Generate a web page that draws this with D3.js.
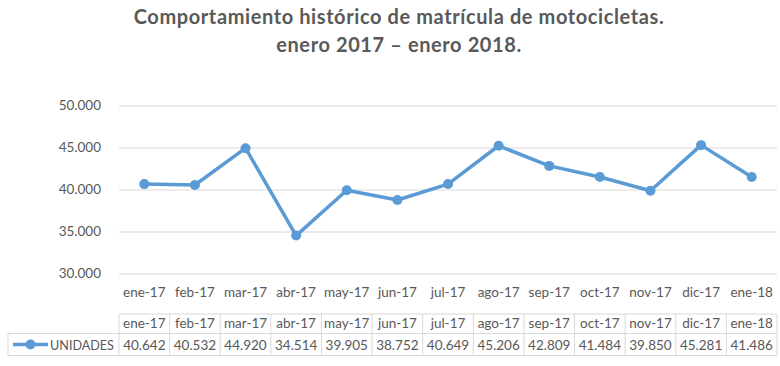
<!DOCTYPE html>
<html>
<head>
<meta charset="utf-8">
<script src="https://cdn.jsdelivr.net/npm/d3@7"></script>
<style>
  body { margin: 0; background: #fff; }
  text { font-family: Lato, "Liberation Sans", sans-serif; fill: #595959; }
</style>
</head>
<body>
<script>
const months = ["ene-17", "feb-17", "mar-17", "abr-17", "may-17", "jun-17", "jul-17",
  "ago-17", "sep-17", "oct-17", "nov-17", "dic-17", "ene-18"];
const unidades = [40642, 40532, 44920, 34514, 39905, 38752, 40649, 45206, 42809, 41484, 39850, 45281, 41486];
const yTicks = [30000, 35000, 40000, 45000, 50000];
const seriesName = "UNIDADES";
const titleLines = ["Comportamiento histórico de matrícula de motocicletas.", "enero 2017 – enero 2018."];

const width = 780, height = 366;
const blue = "#5b9bd5", grid = "#d9d9d9";
const fmt = d3.format(",.0f");
const num = (v) => fmt(v).replace(/,/g, ".");

const svg = d3.select("body").append("svg")
  .attr("width", width)
  .attr("height", height);

const x = d3.scaleBand().domain(months).range([119, 777]);
const y = d3.scaleLinear().domain([30000, 50000]).range([273.5, 105.5]);

// title
svg.append("g").selectAll("text")
  .data(titleLines)
  .join("text")
  .attr("x", 399)
  .attr("y", (d, i) => 24 + i * 28)
  .attr("text-anchor", "middle")
  .attr("font-size", 20)
  .attr("letter-spacing", 0.6)
  .attr("font-weight", "bold")
  .text((d) => d);

// y axis with gridlines
const yAxis = svg.append("g")
  .attr("transform", "translate(119,0)")
  .call(d3.axisLeft(y).tickValues(yTicks).tickSize(-(777 - 119)).tickPadding(18).tickFormat(num));
yAxis.select(".domain").remove();
yAxis.selectAll(".tick line").attr("stroke", grid);
yAxis.selectAll(".tick text").attr("font-size", 13.5).attr("fill", "#595959");

// category labels
svg.append("g").selectAll("text")
  .data(months)
  .join("text")
  .attr("x", (d) => x(d) + x.bandwidth() / 2)
  .attr("y", 297)
  .attr("text-anchor", "middle")
  .attr("font-size", 13.5)
  .text((d) => d);

// line + markers
const line = d3.line()
  .x((d, i) => x(months[i]) + x.bandwidth() / 2)
  .y((d) => y(d));

svg.append("path")
  .datum(unidades)
  .attr("d", line)
  .attr("fill", "none")
  .attr("stroke", blue)
  .attr("stroke-width", 3.5)
  .attr("stroke-linejoin", "round");

svg.append("g").selectAll("circle")
  .data(unidades)
  .join("circle")
  .attr("cx", (d, i) => x(months[i]) + x.bandwidth() / 2)
  .attr("cy", (d) => y(d))
  .attr("r", 5)
  .attr("fill", blue);

// data table
const rowTop = 314, rowMid = 333.5, rowBot = 355.5, legLeft = 8;
const table = svg.append("g").attr("stroke", grid).attr("stroke-width", 1).attr("fill", "none");
table.append("line").attr("x1", 119).attr("x2", 777).attr("y1", rowTop).attr("y2", rowTop);
table.append("line").attr("x1", legLeft).attr("x2", 777).attr("y1", rowMid).attr("y2", rowMid);
table.append("line").attr("x1", legLeft).attr("x2", 777).attr("y1", rowBot).attr("y2", rowBot);
table.append("line").attr("x1", legLeft).attr("x2", legLeft).attr("y1", rowMid).attr("y2", rowBot);
table.selectAll(".col")
  .data(months.concat(["end"]))
  .join("line")
  .attr("class", "col")
  .attr("x1", (d, i) => i < months.length ? x(d) : 777)
  .attr("x2", (d, i) => i < months.length ? x(d) : 777)
  .attr("y1", rowTop)
  .attr("y2", rowBot);

svg.append("g").selectAll("text")
  .data(months)
  .join("text")
  .attr("x", (d) => x(d) + x.bandwidth() / 2)
  .attr("y", 328)
  .attr("text-anchor", "middle")
  .attr("font-size", 13.5)
  .text((d) => d);

svg.append("g").selectAll("text")
  .data(unidades)
  .join("text")
  .attr("x", (d, i) => x(months[i]) + x.bandwidth() / 2)
  .attr("y", 350)
  .attr("text-anchor", "middle")
  .attr("font-size", 13.5)
  .text((d) => num(d));

// legend key
const leg = svg.append("g");
leg.append("line")
  .attr("x1", 13).attr("x2", 48)
  .attr("y1", 344.5).attr("y2", 344.5)
  .attr("stroke", blue).attr("stroke-width", 3.5);
leg.append("circle").attr("cx", 30.5).attr("cy", 344.5).attr("r", 5).attr("fill", blue);
leg.append("text").attr("x", 50).attr("y", 350).attr("font-size", 12.6).text(seriesName);
</script>
</body>
</html>
